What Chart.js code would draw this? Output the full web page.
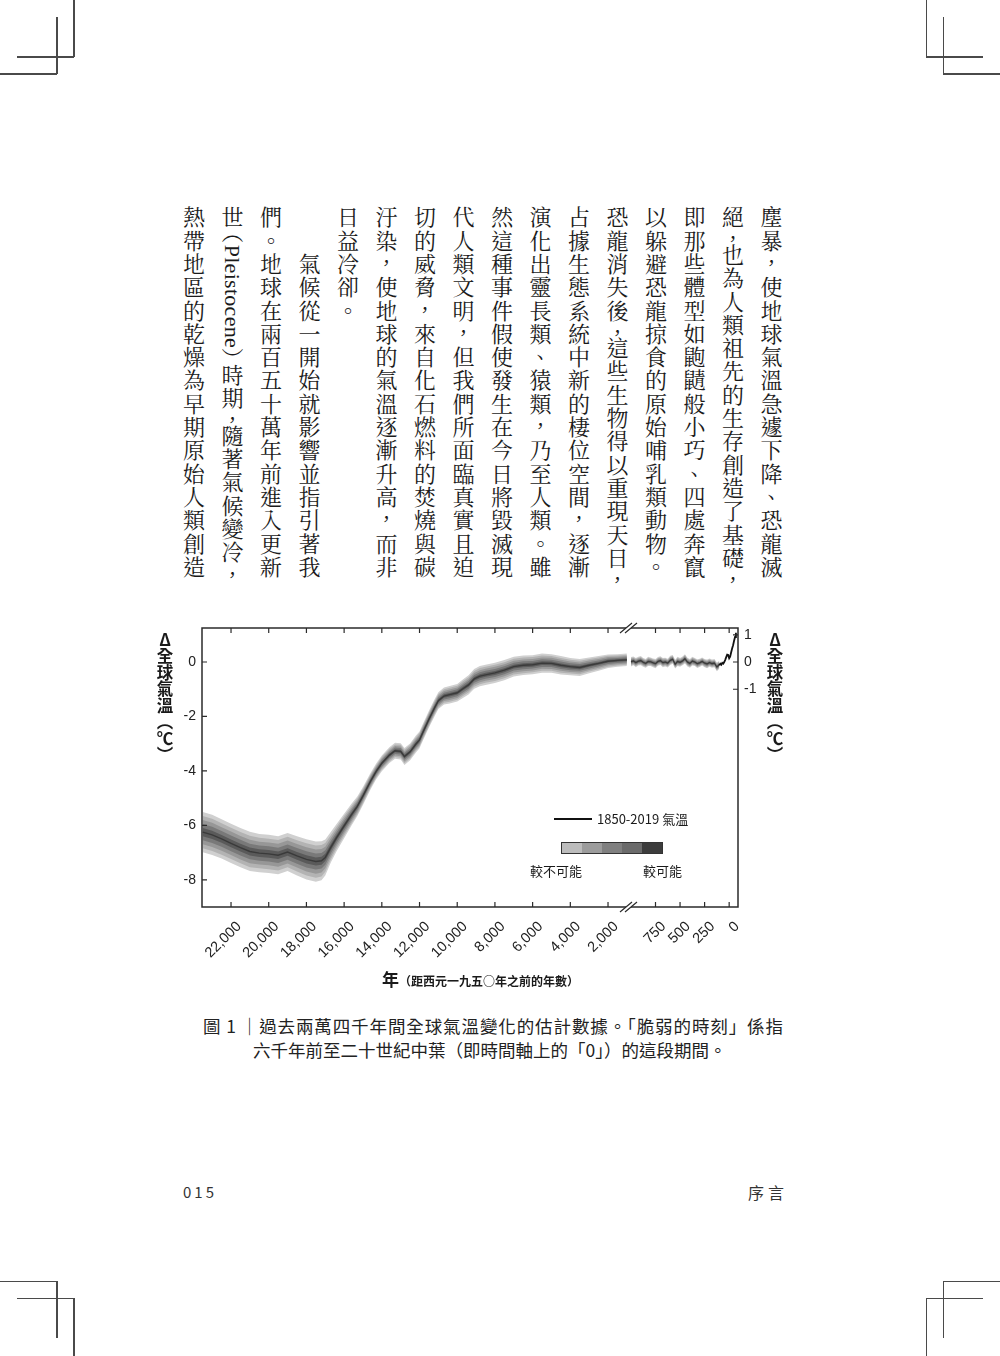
<!DOCTYPE html>
<html><head><meta charset="utf-8">
<script src="https://cdn.jsdelivr.net/npm/chart.js@4.4.1/dist/chart.umd.min.js"></script>
<style>
html,body{margin:0;padding:0;background:#fff;}
#page{position:relative;width:1000px;height:1356px;overflow:hidden;background:#fff;color:#1e1e1e;font-family:"Noto Sans CJK TC","Noto Sans",sans-serif;}
.cm{position:absolute;background:#4a4a4a;}
#body{position:absolute;top:206px;right:210px;writing-mode:vertical-rl;font-family:"Noto Serif CJK TC","Noto Sans CJK TC",serif;font-size:22px;line-height:38.5px;letter-spacing:1.3px;white-space:nowrap;color:#1a1a1a;}
#body .lat{font-family:"Liberation Serif","DejaVu Serif",serif;letter-spacing:0.3px;}
#body .cq{margin-inline-end:-9px;}
#body .po{margin-inline-start:-8px;}
#body .pc{margin-inline-end:-8px;}
canvas{position:absolute;}
.ytitle{position:absolute;writing-mode:vertical-rl;text-orientation:upright;font-weight:bold;font-size:16.5px;line-height:18px;width:18px;color:#1a1a1a;}
#xtitle{position:absolute;left:382px;top:966px;font-weight:bold;color:#1a1a1a;white-space:nowrap;}
#legend .t{position:absolute;font-size:13px;color:#1a1a1a;white-space:nowrap;line-height:16px;}
#cap{position:absolute;font-size:17.5px;color:#222;line-height:24px;}
#cap div{position:absolute;white-space:nowrap;}
#foot{position:absolute;top:1181px;font-size:15px;color:#333;}
</style></head>
<body>
<div id="page">
  <!-- crop marks -->
  <div class="cm" style="left:73px;top:0;width:1.5px;height:57px"></div>
  <div class="cm" style="left:17px;top:56px;width:57px;height:1.5px"></div>
  <div class="cm" style="left:56px;top:17px;width:1.5px;height:57px"></div>
  <div class="cm" style="left:0;top:73px;width:57px;height:1.5px"></div>

  <div class="cm" style="left:925.5px;top:0;width:1.5px;height:57px"></div>
  <div class="cm" style="left:926px;top:56px;width:57px;height:1.5px"></div>
  <div class="cm" style="left:942.5px;top:17px;width:1.5px;height:57px"></div>
  <div class="cm" style="left:943px;top:73px;width:57px;height:1.5px"></div>

  <div class="cm" style="left:0;top:1280.5px;width:57px;height:1.5px"></div>
  <div class="cm" style="left:56px;top:1281px;width:1.5px;height:57px"></div>
  <div class="cm" style="left:17px;top:1297.5px;width:57px;height:1.5px"></div>
  <div class="cm" style="left:73px;top:1298px;width:1.5px;height:58px"></div>

  <div class="cm" style="left:943px;top:1280.5px;width:57px;height:1.5px"></div>
  <div class="cm" style="left:942.5px;top:1281px;width:1.5px;height:57px"></div>
  <div class="cm" style="left:926px;top:1297.5px;width:57px;height:1.5px"></div>
  <div class="cm" style="left:925.5px;top:1298px;width:1.5px;height:58px"></div>

  <div id="body">塵暴，使地球氣溫急遽下降、恐龍滅<br>絕<span class="cq">，</span>也為人類祖先的生存創造了基礎，<br>即那些體型如鼩鼱般小巧、四處奔竄<br>以躲避恐龍掠食的原始哺乳類動物。<br>恐龍消失後<span class="cq">，</span>這些生物得以重現天日，<br>占據生態系統中新的棲位空間，逐漸<br>演化出靈長類、猿類，乃至人類。雖<br>然這種事件假使發生在今日將毀滅現<br>代人類文明，但我們所面臨真實且迫<br>切的威脅，來自化石燃料的焚燒與碳<br>汙染，使地球的氣溫逐漸升高，而非<br>日益冷卻。<br>　　氣候從一開始就影響並指引著我<br>們。地球在兩百五十萬年前進入更新<br>世<span class="po">（</span><span class="lat">Pleistocene</span><span class="pc">）</span>時期<span class="cq">，</span>隨著氣候變冷，<br>熱帶地區的乾燥為早期原始人類創造</div>

  <canvas id="cl" width="508" height="420" style="left:120px;top:590px;width:508px;height:420px"></canvas>
  <canvas id="cr" width="180" height="420" style="left:600px;top:590px;width:180px;height:420px"></canvas>

  <div class="ytitle" style="left:156px;top:631px">Δ全球氣溫（℃）</div>
  <div class="ytitle" style="left:766px;top:631px">Δ全球氣溫（℃）</div>
  <div id="xtitle"><span style="font-size:17px">年</span><span style="font-size:12px">（距西元一九五○年之前的年數）</span></div>

  <div id="legend">
    <div style="position:absolute;left:554px;top:818px;width:38px;height:2px;background:#111"></div>
    <div class="t" style="left:597px;top:811px">1850-2019 氣溫</div>
    <div style="position:absolute;left:562px;top:843px;width:100px;height:10px;display:flex;outline:1px solid #333">
      <div style="flex:1;background:#bcbcbc"></div><div style="flex:1;background:#9c9c9c"></div><div style="flex:1;background:#808080"></div><div style="flex:1;background:#6b6b6b"></div><div style="flex:1;background:#3c3c3c"></div>
    </div>
    <div class="t" style="left:530px;top:863px">較不可能</div>
    <div class="t" style="left:643px;top:863px">較可能</div>
  </div>

  <div id="cap">
    <div style="left:203px;top:1014px;width:580px;text-align:justify;text-align-last:justify">圖 1 ｜過去兩萬四千年間全球氣溫變化的估計數據。「脆弱的時刻」係指</div>
    <div style="left:253px;top:1038px">六千年前至二十世紀中葉（即時間軸上的「0」）的這段期間。</div>
  </div>

  <div id="foot" style="left:183px;letter-spacing:3px">015</div>
  <div id="foot2" style="position:absolute;top:1180px;left:748px;font-size:16px;letter-spacing:4px;color:#333">序言</div>
</div>

<script>
// ---- data (years before 1950, temperature anomaly °C) ----
const leftYears = [23500, 23000, 22500, 22000, 21500, 21000, 20500, 20000, 19500, 19000,
  18500, 18000, 17500, 17200, 17000, 16700, 16400, 16000, 15600, 15300,
  15000, 14600, 14300, 14000, 13600, 13300, 13000, 12800, 12500, 12200,
  12000, 11800, 11500, 11200, 11000, 10700, 10400, 10000, 9700, 9400,
  9100, 8800, 8500, 8000, 7500, 7000, 6500, 6000, 5500, 5000,
  4500, 4000, 3500, 3000, 2500, 2000, 1500, 1000];
const leftTemp = [-6.25, -6.35, -6.5, -6.66, -6.82, -6.96, -7.02, -7.05, -7.1, -6.98,
  -7.12, -7.25, -7.33, -7.3, -7.18, -6.8, -6.45, -6.02, -5.6, -5.3,
  -4.92, -4.38, -4.02, -3.72, -3.42, -3.26, -3.28, -3.47, -3.3, -3.02,
  -2.86, -2.55, -2.1, -1.68, -1.42, -1.25, -1.2, -1.13, -0.98, -0.84,
  -0.62, -0.52, -0.47, -0.4, -0.3, -0.17, -0.12, -0.1, -0.04, -0.05,
  -0.12, -0.17, -0.2, -0.12, -0.05, 0.03, 0.06, 0.08];
const leftSpread = [0.74, 0.74, 0.72, 0.72, 0.72, 0.72, 0.7, 0.7, 0.7, 0.7,
  0.72, 0.74, 0.74, 0.72, 0.66, 0.56, 0.5, 0.45, 0.4, 0.36,
  0.33, 0.3, 0.29, 0.29, 0.29, 0.29, 0.3, 0.31, 0.31, 0.31,
  0.31, 0.31, 0.31, 0.31, 0.31, 0.31, 0.32, 0.32, 0.34, 0.35,
  0.36, 0.37, 0.37, 0.37, 0.37, 0.36, 0.36, 0.35, 0.35, 0.34,
  0.34, 0.32, 0.31, 0.29, 0.27, 0.25, 0.23, 0.23];

const rightYears = [1000, 975, 950, 925, 900, 875, 850, 825, 800, 775,
  750, 725, 700, 675, 650, 625, 600, 575, 550, 525,
  500, 475, 450, 425, 400, 375, 350, 325, 300, 275,
  250, 225, 200, 175, 150, 125, 100];
const rightTemp = [0.01, 0.04, -0.02, 0.03, 0.05, -0.01, -0.05, 0.02, 0.01, -0.03,
  -0.06, 0.02, 0.05, -0.02, 0.0, -0.04, 0.06, 0.1, -0.08, 0.02,
  -0.01, 0.04, 0.12, 0.0, -0.05, 0.03, 0.0, -0.06, -0.03, 0.02,
  -0.04, -0.07, -0.02, -0.06, -0.04, -0.18, -0.1];
const rightSpread = [0.17, 0.16, 0.17, 0.16, 0.17, 0.16, 0.16, 0.17, 0.16, 0.16,
  0.17, 0.16, 0.16, 0.17, 0.16, 0.16, 0.17, 0.16, 0.16, 0.17,
  0.16, 0.16, 0.17, 0.16, 0.16, 0.16, 0.15, 0.16, 0.15, 0.15,
  0.15, 0.16, 0.15, 0.15, 0.15, 0.16, 0.15];

const obsYears = [100, 90, 80, 70, 60, 50, 40, 30, 20, 10, 0, -10, -20, -30, -40, -50, -60, -69];
const obsTemp = [-0.12, -0.06, -0.1, -0.03, -0.06, 0.0, 0.08, 0.18, 0.27, 0.26, 0.14, 0.2, 0.35, 0.5, 0.62, 0.78, 0.92, 1.08];

const leftXTicks = [22000, 20000, 18000, 16000, 14000, 12000, 10000, 8000, 6000, 4000, 2000];
const rightXTicks = [750, 500, 250, 0];
const leftYTicks = [0, -2, -4, -6, -8];
const rightYTicks = [1, 0, -1];

// probability band levels (inner -> outer fraction of spread) and shades
const bandLevels = [0.2, 0.4, 0.6, 0.8, 1.0];
const bandColors = ['#5a5a5a', '#797979', '#979797', '#b3b3b3', '#d0d0d0'];

// ---- helpers ----
function pts(xs, ys) { return xs.map((x, i) => ({x: x, y: ys[i]})); }
function bandDatasets(xs, ys, sp) {
  const ds = [];
  bandLevels.forEach((k, j) => {
    ds.push({data: xs.map((x, i) => ({x: x, y: ys[i] + k * sp[i]})), fill: '+1',
      backgroundColor: bandColors[j], borderColor: 'rgba(0,0,0,0)', borderWidth: 0, pointRadius: 0});
    ds.push({data: xs.map((x, i) => ({x: x, y: ys[i] - k * sp[i]})), fill: false,
      borderColor: 'rgba(0,0,0,0)', borderWidth: 0, pointRadius: 0});
  });
  return ds;
}

const framePlugin = {
  id: 'frame',
  afterDraw(chart, args, opts) {
    const ctx = chart.ctx, a = chart.chartArea;
    const xs = chart.scales.x, ys = chart.scales.y;
    ctx.save();
    ctx.strokeStyle = '#2b2b2b';
    ctx.lineWidth = 1.5;
    ctx.beginPath();
    ctx.moveTo(a.left, a.top); ctx.lineTo(a.right, a.top);
    ctx.moveTo(a.left, a.bottom); ctx.lineTo(a.right, a.bottom);
    if (opts.side === 'left') { ctx.moveTo(a.left, a.top - 0.75); ctx.lineTo(a.left, a.bottom + 0.75); }
    else { ctx.moveTo(a.right, a.top - 0.75); ctx.lineTo(a.right, a.bottom + 0.75); }
    ctx.stroke();
    ctx.lineWidth = 1.2;
    ctx.beginPath();
    xs.ticks.forEach(t => {
      const p = xs.getPixelForValue(t.value);
      ctx.moveTo(p, a.bottom); ctx.lineTo(p, a.bottom - 5);
      ctx.moveTo(p, a.top); ctx.lineTo(p, a.top + 5);
    });
    ys.ticks.forEach(t => {
      const p = ys.getPixelForValue(t.value);
      if (opts.side === 'left') { ctx.moveTo(a.left, p); ctx.lineTo(a.left + 5, p); }
      else { ctx.moveTo(a.right, p); ctx.lineTo(a.right - 5, p); }
    });
    ctx.stroke();
    if (opts.breakMark) {
      [a.top, a.bottom].forEach(yy => {
        ctx.fillStyle = '#fff';
        ctx.fillRect(a.left - 2, yy - 1.5, 5, 3);
        ctx.beginPath();
        ctx.moveTo(a.left - 8, yy + 5); ctx.lineTo(a.left + 4, yy - 5);
        ctx.moveTo(a.left - 3, yy + 5); ctx.lineTo(a.left + 9, yy - 5);
        ctx.lineWidth = 1.2;
        ctx.stroke();
      });
    }
    ctx.restore();
  }
};

Chart.defaults.font.family = "'Liberation Sans', Arial, sans-serif";
Chart.defaults.font.size = 14;
Chart.defaults.color = '#222';

function xScale(min, max, ticks) {
  return {
    type: 'linear', reverse: true, min: min, max: max,
    grid: {display: false, drawTicks: false}, border: {display: false},
    afterBuildTicks: s => { s.ticks = ticks.map(v => ({value: v})); },
    afterFit: s => { s.height = 103; s.paddingLeft = 0; s.paddingRight = 0; },
    ticks: {autoSkip: false, minRotation: 45, maxRotation: 45, padding: 11, labelOffset: 8,
      font: {size: 14.5},
      callback: v => v.toLocaleString('en-US')}
  };
}
function yScale(pos, width, ticks) {
  return {
    type: 'linear', position: pos, min: -9, max: 1.25,
    grid: {display: false, drawTicks: false}, border: {display: false},
    afterBuildTicks: s => { s.ticks = ticks.map(v => ({value: v})); },
    afterFit: s => { s.width = width; s.paddingTop = 0; s.paddingBottom = 0; },
    ticks: {padding: 6, callback: v => String(v)}
  };
}

new Chart(document.getElementById('cl'), {
  type: 'line',
  data: {datasets: [
    {data: pts(leftYears, leftTemp), borderColor: '#3a3a3a', borderWidth: 1.4, pointRadius: 0, fill: false}
  ].concat(bandDatasets(leftYears, leftTemp, leftSpread))},
  options: {
    responsive: false, animation: false,
    layout: {padding: {top: 38, left: 0, right: 0, bottom: 0}},
    plugins: {legend: {display: false}, tooltip: {enabled: false}, frame: {side: 'left'}},
    scales: {x: xScale(940, 23540, leftXTicks), y: yScale('left', 82, leftYTicks)}
  },
  plugins: [framePlugin]
});

new Chart(document.getElementById('cr'), {
  type: 'line',
  data: {datasets: [
    {data: pts(obsYears, obsTemp), borderColor: '#111', borderWidth: 1.8, pointRadius: 0, fill: false},
    {data: pts(rightYears, rightTemp), borderColor: '#3a3a3a', borderWidth: 1.1, pointRadius: 0, fill: false}
  ].concat(bandDatasets(rightYears, rightTemp, rightSpread))},
  options: {
    responsive: false, animation: false,
    layout: {padding: {top: 38, left: 28, right: 0, bottom: 0}},
    plugins: {legend: {display: false}, tooltip: {enabled: false}, frame: {side: 'right', breakMark: true}},
    scales: {x: xScale(-90, 1030, rightXTicks), y: yScale('right', 42, rightYTicks)}
  },
  plugins: [framePlugin]
});
</script>
</body></html>
